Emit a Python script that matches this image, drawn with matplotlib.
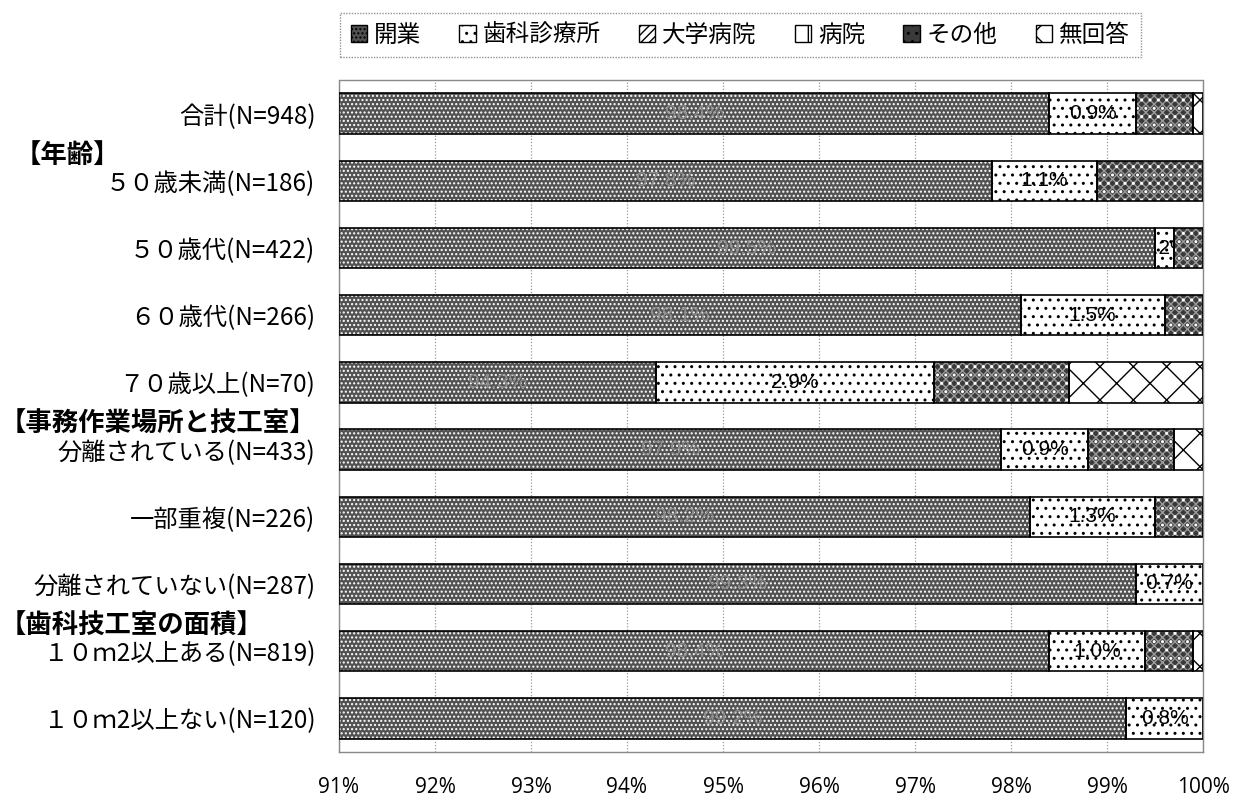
import numpy as np
import matplotlib.pyplot as plt
from matplotlib.patches import Patch
from matplotlib import transforms

plt.rcParams['font.family'] = ['Noto Sans CJK JP', 'DejaVu Sans']
plt.rcParams['hatch.linewidth'] = 1.0

# 回答者の属性ごとの勤務先の内訳（％）
categories = ['合計(N=948)', '５０歳未満(N=186)', '５０歳代(N=422)', '６０歳代(N=266)',
              '７０歳以上(N=70)', '分離されている(N=433)', '一部重複(N=226)',
              '分離されていない(N=287)', '１０ｍ2以上ある(N=819)', '１０ｍ2以上ない(N=120)']
kaigyou = [98.4, 97.8, 99.5, 98.1, 94.3, 97.9, 98.2, 99.3, 98.4, 99.2]
shika = [0.9, 1.1, 0.2, 1.5, 2.9, 0.9, 1.3, 0.7, 1.0, 0.8]
daigaku = [0, 0, 0, 0, 0, 0, 0, 0, 0, 0]
byouin = [0, 0, 0, 0, 0, 0, 0, 0, 0, 0]
sonota = [0.6, 1.1, 0.3, 0.4, 1.4, 0.9, 0.5, 0.0, 0.5, 0.0]
mukaitou = [0.1, 0.0, 0.0, 0.0, 1.4, 0.3, 0.0, 0.0, 0.1, 0.0]

series_names = ['開業', '歯科診療所', '大学病院', '病院', 'その他', '無回答']
groups = ['【年齢】', '【事務作業場所と技工室】', '【歯科技工室の面積】']
group_start = [1, 5, 8]
group_x = [0.012, 0.0, 0.0]
xticks = [91, 92, 93, 94, 95, 96, 97, 98, 99, 100]

# 系列ごとの塗り（地色、重ねるハッチとその色）
styles = [
    ('#525252', [('....', 'white')]),
    ('white', [('..', 'black')]),
    ('white', [('////', 'black')]),
    ('white', [('|', 'black')]),
    ('#3a3a3a', [('xxxx', '#9a9a9a'), ('..', 'white')]),
    ('white', [('x', 'black')]),
]
label_color = ['#8c8c8c', 'black', 'black', 'black', 'black', 'black']
show_label = [True, True, False, False, False, False]
num_font = ['Liberation Sans Narrow', 'Liberation Sans', 'DejaVu Sans']

fig = plt.figure(figsize=(12.34, 7.97), dpi=100)
ax = fig.add_axes([0.2747, 0.0565, 0.7002, 0.8431])

data = [kaigyou, shika, daigaku, byouin, sonota, mukaitou]
y = np.arange(len(categories))
left = np.full(len(categories), 91.0)
height = 0.6

for k, vals in enumerate(data):
    vals = np.array(vals, dtype=float)
    fc, hatches = styles[k]
    widths = vals - 91.0 if k == 0 else vals.copy()
    mask = widths > 0
    ax.barh(y[mask], widths[mask], left=left[mask], height=height,
            color=fc, edgecolor='none', linewidth=0, zorder=2)
    for hatch, hc in hatches:
        ax.barh(y[mask], widths[mask], left=left[mask], height=height,
                color='none', edgecolor=hc, hatch=hatch, linewidth=0, zorder=3)
    bars = ax.barh(y[mask], widths[mask], left=left[mask], height=height,
                   color='none', edgecolor='black', linewidth=1.2, zorder=4)
    if show_label[k]:
        for bar, v in zip(bars, vals[mask]):
            cx = bar.get_x() + bar.get_width() / 2
            cy = bar.get_y() + bar.get_height() / 2
            t = ax.text(cx, cy, f'{v:.1f}%', ha='center', va='center',
                        fontsize=15, color=label_color[k], zorder=5,
                        family=num_font, clip_on=True)
            t.set_clip_path(bar)
    left = left + widths

ax.set_xlim(91, 100)
ax.set_ylim(len(categories) - 0.5, -0.5)
ax.set_xticks(xticks)
ax.set_xticklabels([f'{t}%' for t in xticks], fontsize=15,
                   family=['Open Sans', 'DejaVu Sans'])
ax.set_yticks(y)
ax.set_yticklabels(categories, fontsize=17.5)
ax.tick_params(axis='y', length=0, pad=17)
ax.tick_params(axis='x', length=0, pad=18)
ax.xaxis.grid(True, color='#999999', linestyle=(0, (1, 1.5)), linewidth=0.9, zorder=0)
ax.set_axisbelow(True)
for sp in ax.spines.values():
    sp.set_linestyle((0, (1, 1)))
    sp.set_color('#888888')
    sp.set_linewidth(1.0)

# 区分見出し
trans = transforms.blended_transform_factory(fig.transFigure, ax.transData)
for g, s, gx in zip(groups, group_start, group_x):
    ax.text(gx, s - 0.37, g, transform=trans, ha='left', va='center',
            fontsize=19, fontweight='bold', clip_on=False)

handles = []
for (fc, hatches), name in zip(styles, series_names):
    handles.append(Patch(facecolor=fc, edgecolor='black', hatch=hatches[-1][0], label=name))
leg = fig.legend(handles=handles, loc='center', bbox_to_anchor=(0.6, 0.956), ncol=6,
                 fontsize=17, frameon=True, fancybox=False, handlelength=0.7,
                 handleheight=0.7, handletextpad=0.3, columnspacing=1.6,
                 borderpad=0.45)
leg.get_frame().set_edgecolor('#777777')
leg.get_frame().set_linestyle((0, (1, 1)))
leg.get_frame().set_linewidth(1.0)

fig.savefig('out.png', dpi=100)
